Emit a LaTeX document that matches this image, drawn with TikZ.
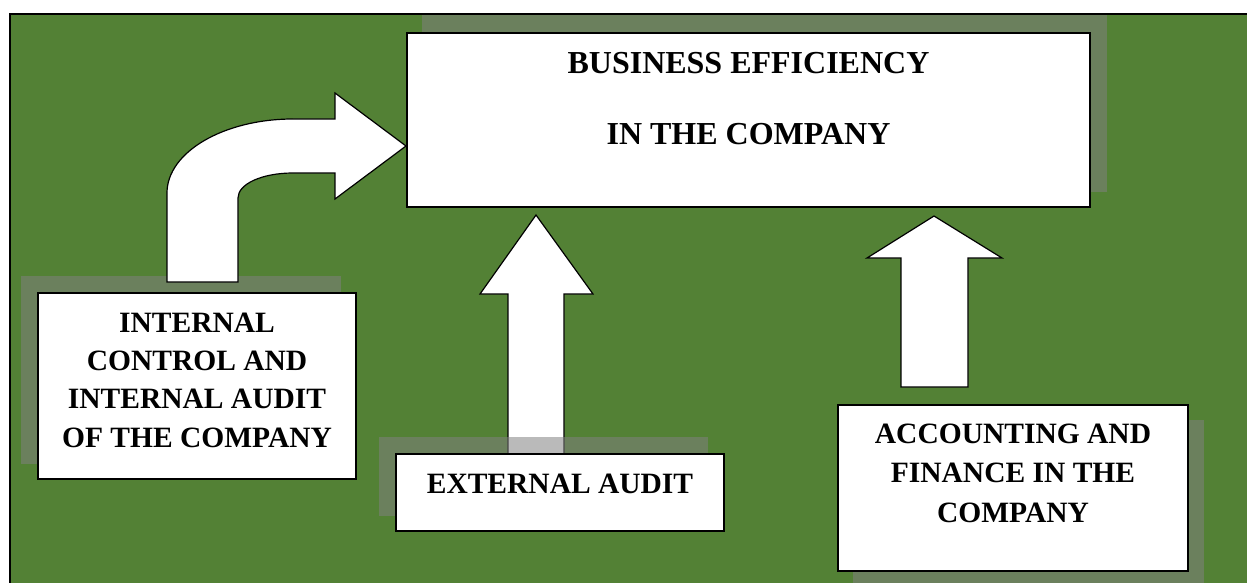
\documentclass[tikz,border=0pt]{standalone}
\usepackage{fontspec}
\setmainfont{Liberation Serif}
\definecolor{bggreen}{HTML}{538135}
\definecolor{shadowgray}{HTML}{808080}
\tikzset{
  box/.style={draw=black, fill=white, line width=1.6pt, inner sep=0pt},
  shadowbox/.style={fill=shadowgray, fill opacity=0.54, draw=none},
  blockarrow/.style={draw=black, fill=white, line width=1.2pt, line join=miter},
  label/.style={inner sep=0pt, anchor=north, align=center},
  bigtext/.style={font=\bfseries\fontsize{32}{71}\selectfont},
  smalltext/.style={font=\bfseries\fontsize{29.5}{38.4}\selectfont},
  acctextstyle/.style={font=\bfseries\fontsize{29.5}{39.5}\selectfont},
}
\begin{document}
\begin{tikzpicture}[x=1pt, y=-1pt]
\useasboundingbox (0,0) rectangle (1247,583);
% background frame
\fill[bggreen] (10,14) rectangle (1247,583);
\draw[line width=2.2pt] (10,583) -- (10,14) -- (1247,14);

% business efficiency
\fill[shadowbox] (422,15) rectangle (1107,192);
\node[box, minimum width=683pt, minimum height=174pt] (biz) at (748.5,120) {};
\node[label, bigtext] (biztext) at (748.5,52.5) {BUSINESS EFFICIENCY\\IN THE COMPANY};

% internal control
\fill[shadowbox] (21,276) rectangle (341,464);
\draw[blockarrow] (167,282) -- (167,193)
  .. controls (167,152) and (224,119) .. (293,119)
  -- (335,119) -- (335,93) -- (406,146) -- (335,199) -- (335,173) -- (293,173)
  .. controls (262,173) and (238,184) .. (238,198)
  -- (238,282) -- cycle;
\node[box, minimum width=318pt, minimum height=186pt] (int) at (197,386) {};
\node[label, smalltext] (inttext) at (197,312.5) {INTERNAL\\CONTROL AND\\INTERNAL AUDIT\\OF THE COMPANY};

% external audit
\draw[blockarrow] (508,454) -- (508,294) -- (480,294) -- (536,215) -- (593,294) -- (564,294) -- (564,454) -- cycle;
\fill[shadowbox] (379,437) rectangle (708,516);
\node[box, minimum width=328pt, minimum height=77pt] (ext) at (560,492.5) {};
\node[label, smalltext] (exttext) at (560,473.5) {EXTERNAL AUDIT};

% accounting and finance
\fill[shadowbox] (853,420) rectangle (1204,583);
\draw[blockarrow] (901,387) -- (901,258) -- (867,258) -- (934,216) -- (1002,258) -- (968,258) -- (968,387) -- cycle;
\node[box, minimum width=350pt, minimum height=166pt] (acc) at (1013,488) {};
\node[label, acctextstyle] (acctext) at (1013,423.5) {ACCOUNTING AND\\FINANCE IN THE\\COMPANY};
\end{tikzpicture}
\end{document}
